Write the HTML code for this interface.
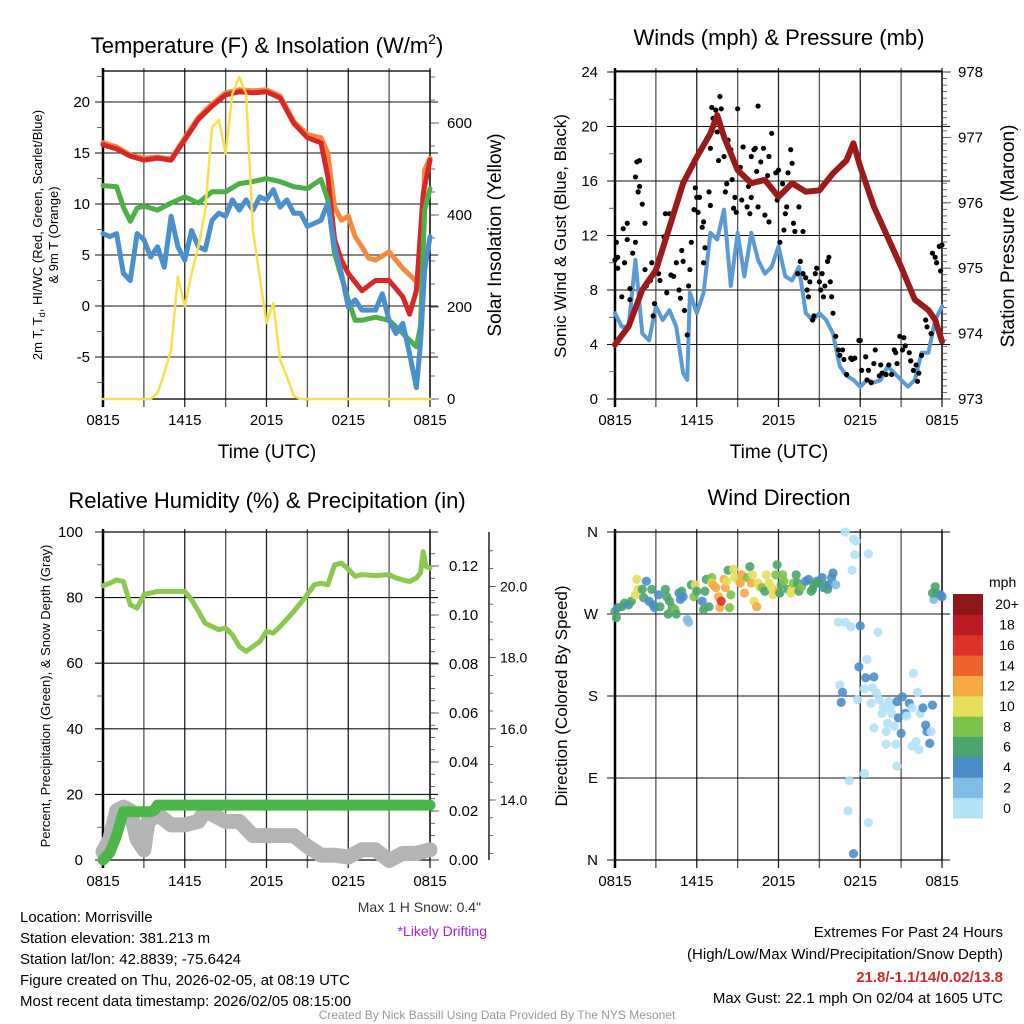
<!DOCTYPE html>
<html><head><meta charset="utf-8"><title>Morrisville Mesonet</title>
<style>
html,body{margin:0;padding:0;background:#fff;}
svg{display:block;font-family:"Liberation Sans",Arial,sans-serif;}
</style></head>
<body>
<svg id="root" width="1024" height="1024" viewBox="0 0 1024 1024" xmlns="http://www.w3.org/2000/svg">
<rect x="0" y="0" width="1024" height="1024" fill="#fff"/>
<g id="layer"></g>
<!-- static text -->
<text x="267" y="53" text-anchor="middle" font-size="22">Temperature (F) &amp; Insolation (W/m<tspan font-size="14" dy="-9">2</tspan><tspan dy="9">)</tspan></text>
<text x="779" y="45" text-anchor="middle" font-size="22">Winds (mph) &amp; Pressure (mb)</text>
<text x="267" y="508" text-anchor="middle" font-size="22">Relative Humidity (%) &amp; Precipitation (in)</text>
<text x="779" y="505" text-anchor="middle" font-size="22">Wind Direction</text>
<text x="267" y="458" text-anchor="middle" font-size="19">Time (UTC)</text>
<text x="779" y="458" text-anchor="middle" font-size="19">Time (UTC)</text>
<text transform="translate(42,235) rotate(-90)" text-anchor="middle" font-size="13">2m T, T<tspan font-size="9" dy="3">d</tspan><tspan dy="-3">, HI/WC (Red, Green, Scarlet/Blue)</tspan></text>
<text transform="translate(58,235) rotate(-90)" text-anchor="middle" font-size="13">&amp; 9m T (Orange)</text>
<text transform="translate(501,235) rotate(-90)" text-anchor="middle" font-size="19">Solar Insolation (Yellow)</text>
<text transform="translate(566,236) rotate(-90)" text-anchor="middle" font-size="17">Sonic Wind &amp; Gust (Blue, Black)</text>
<text transform="translate(1014,236) rotate(-90)" text-anchor="middle" font-size="19">Station Pressure (Maroon)</text>
<text transform="translate(50,696) rotate(-90)" text-anchor="middle" font-size="13">Percent, Precipitation (Green), &amp; Snow Depth (Gray)</text>
<text transform="translate(567,696) rotate(-90)" text-anchor="middle" font-size="17">Direction (Colored By Speed)</text>
<text x="989" y="587" text-anchor="start" font-size="14">mph</text>
<g font-size="15">
<text x="20" y="922">Location: Morrisville</text>
<text x="20" y="943">Station elevation: 381.213 m</text>
<text x="20" y="964">Station lat/lon: 42.8839; -75.6424</text>
<text x="20" y="985">Figure created on Thu, 2026-02-05, at 08:19 UTC</text>
<text x="20" y="1006">Most recent data timestamp: 2026/02/05 08:15:00</text>
</g>
<text x="481" y="912" text-anchor="end" font-size="14" fill="#333">Max 1 H Snow: 0.4"</text>
<text x="487" y="936" text-anchor="end" font-size="14" fill="#a020f0">*Likely Drifting</text>
<g font-size="15" text-anchor="end">
<text x="1003" y="937">Extremes For Past 24 Hours</text>
<text x="1003" y="959">(High/Low/Max Wind/Precipitation/Snow Depth)</text>
<text x="1003" y="982" fill="#d62728" font-weight="bold">21.8/-1.1/14/0.02/13.8</text>
<text x="1003" y="1003">Max Gust: 22.1 mph On 02/04 at 1605 UTC</text>
</g>
<text x="497" y="1019" text-anchor="middle" font-size="12" fill="#999">Created By Nick Bassill Using Data Provided By The NYS Mesonet</text>
</svg>
<script>
// ---------- DATA ----------
var xTickLabels = ["0815","1415","2015","0215","0815"];
// Panel 1 temperature
var tempHours = [0,1,2,3,4,5,6,7,8,9,10,11,12,13,14,15,16,16.5,17,17.5,18,19,20,21,22,22.5,23,23.5,24];
var redT = [15.8,15.4,14.7,14.3,14.5,14.3,16.3,18.3,19.6,20.7,21.0,20.9,21.0,20.4,17.9,16.5,16.0,12.7,6.5,4.5,3.2,1.5,2.5,2.5,0.9,-0.8,1.5,11,14.3];
var orangeHours = [0,1,2,3,4,5,6,7,8,9,10,11,12,13,14,15,16,16.5,17,17.5,18,18.5,19,19.5,20,21,22,23,23.3,23.6,24];
var orangeT = [16.0,15.6,14.8,14.5,14.6,14.4,16.5,18.5,19.8,20.9,21.2,21.1,21.2,20.6,18.1,16.8,16.5,15.0,9.7,8.4,8.8,6.8,5.8,4.7,4.5,5.3,3.7,2.4,1.9,13.3,14.5];
var greenHours = [0,1,1.5,2,2.5,3,4,5,6,7,8,9,10,11,12,13,14,15,16,16.5,17,17.5,18,18.5,19,20,21,22,23,23.3,23.6,24];
var greenT = [11.8,11.7,9.7,8.3,9.6,9.8,9.4,10.1,10.7,10.1,11.2,11.2,12.0,12.2,12.5,12.2,11.7,11.5,12.4,10.4,5.1,2.9,0.6,-1.4,-1.4,-1.1,-1.4,-2.7,-4.0,-2,9.4,11.5];
var blueHours = [0,0.5,1,1.5,2,2.5,3,3.5,4,4.5,5,5.5,6,6.5,7,7.5,8,8.5,9,9.5,10,10.5,11,11.5,12,12.5,13,13.5,14,14.5,15,15.5,16,16.5,17,17.5,18,18.5,19,20,20.5,21,21.5,22,22.5,23,23.3,23.6,24];
var blueT = [7.1,6.8,7.1,3.2,2.5,7.1,6.5,4.8,5.8,3.8,8.8,5.8,4.5,7.4,5.8,5.5,8.4,9.1,8.8,10.4,9.4,10.4,9.4,10.7,10.4,11.4,9.7,10.4,9.1,9.1,7.8,8.1,8.4,10.1,5.8,3.2,-0.1,0.6,-0.4,-0.4,1.2,-1.4,-2.7,-1.7,-4.7,-8.0,-3.7,3.5,6.8];
var solarHours = [0,3.5,4,4.5,5,5.5,6,6.5,7,7.5,8,8.5,9,9.5,10,10.5,11,11.5,12,12.5,13,13.5,14,14.5,24];
var solarW = [0,0,13,56,107,266,201,273,331,410,591,606,534,664,700,664,367,266,165,208,85,49,6,0,0];
var tempTicks = [-5,0,5,10,15,20];
var solarTicks = [0,200,400,600];
// Panel 2 winds
var pressHours = [0,1,2,3,4,5,6,7,7.5,8,9,10,11,12,13,14,15,16,17,17.5,18,19,20,21,22,23,23.5,24];
var pressMb = [973.83,974.11,974.67,974.97,975.63,976.30,976.70,977.06,977.34,977.01,976.50,976.30,976.35,976.09,976.30,976.17,976.19,976.45,976.65,976.91,976.55,975.94,975.48,975.02,974.52,974.36,974.21,973.88];
var windHours = [0,0.5,1,1.5,2,2.5,3,3.5,4,4.5,5,5.3,5.5,6,6.5,7,7.5,8,8.5,9,9.5,10,10.5,11,11.5,12,12.5,13,13.5,14,14.5,15,15.5,16,16.5,17,17.5,18,18.5,19,19.5,20,20.5,21,21.5,22,22.5,23,23.5,24];
var windMph = [6.3,5.3,5.3,10.2,4.8,4.3,6.8,5.8,6.5,5.3,1.9,1.4,7.8,6.3,7.8,12.2,11.7,13.9,8.3,12.2,9.0,12.2,10.2,9.2,9.7,11.2,9.0,8.7,9.7,6.3,5.8,6.3,5.8,4.8,2.4,1.7,1.4,0.9,1.4,1.2,1.4,2.4,1.9,1.4,0.9,1.4,3.4,3.4,5.8,6.8];
var gustHours = [0,0.1,0.2,0.2,0.5,0.6,0.7,0.9,0.9,1.1,1.1,1.3,1.5,1.5,1.6,1.7,1.8,1.8,2,2.2,2.2,2.3,2.6,2.7,2.8,2.9,3.2,3.3,3.6,3.7,3.8,4,4.1,4.3,4.5,4.7,4.8,4.9,5,5.1,5.3,5.4,5.5,5.6,5.8,5.9,6,6.1,6.2,6.4,6.5,6.5,6.6,6.9,7,7,7.1,7.2,7.4,7.5,7.6,7.7,7.8,8,8.1,8.2,8.3,8.5,8.6,8.7,8.8,8.9,9,9.2,9.3,9.4,9.7,9.8,9.9,10,10,10.2,10.3,10.4,10.5,10.5,10.7,10.9,11,11.2,11.3,11.3,11.5,11.8,11.9,12,12.1,12.3,12.4,12.5,12.6,12.7,12.9,13,13.1,13.2,13.4,13.5,13.6,13.8,13.8,14,14.1,14.2,14.3,14.5,14.6,14.7,14.8,15,15.1,15.2,15.3,15.4,15.6,15.7,15.8,15.9,16,16.2,16.4,16.5,16.7,16.8,17,17.3,17.4,17.6,17.9,18,18.1,18.4,18.5,18.6,18.8,19,19.1,19.4,19.5,19.6,19.9,20.1,20.3,20.5,20.6,20.7,20.9,21.1,21.2,21.3,21.6,21.7,21.9,22.1,22.2,22.3,22.5,22.8,22.9,23.2,23.3,23.5,23.6,23.8,23.9,24];
var gustMph = [10.2,11.5,10.4,9.6,7.5,12.5,10,11.7,12.9,8.1,7.3,10.7,11.5,16.3,17.4,15.2,17.5,15.6,14.3,12.9,9.5,8.3,8.7,10,6.1,7,9.2,8.7,11.9,13.6,7.8,13.6,9.1,9,10,8,7.4,10.9,10.1,6.5,4.7,8.3,9.5,11.5,13.9,15.5,14.8,13.7,14.8,12.6,13,10,11.1,15.2,18.4,14.2,21.4,20.6,21.2,19.6,17.5,22.2,21.3,17.8,15.2,15.8,19,18.3,16.1,14,14.8,13.7,21.3,17,14.6,18.5,14.1,15.6,13.6,14.8,17.8,18.3,18.4,16.7,21.5,14.1,17.4,18.4,13.5,16.4,17.8,13,19.5,16.6,14.6,16.8,11.5,15.8,12.4,13.6,14.1,16.6,18.3,17.3,12.9,12.3,9.2,14.1,10.1,12.3,9.2,8.9,8,7.5,8.6,5.8,6.1,9.2,9.6,8.6,8,9.2,7.5,8.3,10.1,10.4,8.6,7.5,6.3,4.6,3.6,3.2,3.6,2.9,1.8,3,2.9,3,4.3,4.3,2.1,3.1,1.4,2.1,1.2,2.6,3.6,1.7,2.5,1.9,1.8,2.5,1.8,3.6,3.4,2.6,4.6,3.6,4.5,3.9,3.4,2.8,2.1,2.5,1.3,1.9,3.2,5.8,5.3,4.8,10.7,10.4,10,11.2,9.4,11.3];
var windTicks = [0,4,8,12,16,20,24];
var pressTicks = [973,974,975,976,977,978];
// Panel 3 humidity / precip / snow
var rhHours = [0,0.5,1,1.5,2,2.5,3,4,5,6,6.5,7,7.5,8,8.5,9,9.5,10,10.5,11,11.5,12,12.5,13,14,15,15.5,16,16.5,17,17.5,18,18.5,19,20,21,21.5,22,22.5,23,23.3,23.5,23.7,24];
var rhPct = [83.6,84.4,85.4,84.9,77.8,76.8,80.9,81.9,81.9,81.9,79.3,75.8,72.2,71.2,70.2,70.7,68.7,65.1,63.6,65.1,66.6,69.7,69.2,71.2,75.8,80.9,83.9,84.4,83.9,90.0,90.5,88.7,86.5,87,86.7,87,86,85.4,84.9,86,87.5,94,89.5,89];
var precipHours = [0,0.5,1,1.5,2,2.5,3,3.5,3.8,4,6,8,10,12,14,16,18,20,22,24];
var precipIn = [0,0.003,0.010,0.0197,0.0197,0.0197,0.0197,0.0197,0.0205,0.0224,0.0224,0.0224,0.0224,0.0224,0.0224,0.0224,0.0224,0.0224,0.0224,0.0224];
var snowHours = [0,0.5,1,1.5,2,2.5,3,3.3,3.7,4,5,6,7,7.5,8,9,10,11,12,13,14,15,16,17,18,19,20,21,22,23,24];
var snowIn = [12.55,12.9,13.7,13.8,13.7,12.9,12.6,13.4,13.5,13.6,13.3,13.3,13.4,13.7,13.6,13.4,13.4,13.0,13.0,13.0,13.0,12.7,12.45,12.45,12.4,12.6,12.6,12.3,12.5,12.5,12.6];
var rhTicks = [0,20,40,60,80,100];
var precipTicks = ["0.00","0.02","0.04","0.06","0.08","0.10","0.12"];
var snowTicks = ["14.0","16.0","18.0","20.0"];
// Panel 4 wind direction
var dirHours = [0,0.1,0.2,0.5,0.7,1,1.2,1.6,1.7,1.5,2,2.1,2.3,2.5,2.7,2.8,2.9,3.2,3.3,3.7,3.8,3.9,4,4.2,4.4,4.5,4.7,4.8,4.9,5,5.3,5.4,5.6,5.8,5.9,6,6.4,6.5,6.6,6.7,6.9,7.1,7.1,7.2,7.4,7.6,7.7,7.8,8,8.1,8.2,8.3,8.4,8.5,8.7,8.8,9.1,9.2,9.3,9.5,9.7,9.9,10,10.1,10.2,10.4,10.5,10.6,10.8,11,11.1,11.3,11.5,11.6,11.8,11.9,12,12.1,12.2,12.3,12.4,12.7,12.9,13,13.1,13.3,13.4,13.5,13.7,14,14.2,14.4,14.5,14.6,14.8,14.9,15.2,15.3,15.4,15.6,15.7,15.9,16,16.2,16.4,16.9,16.9,17.3,17.4,17.5,17.7,17.6,18,18.6,19.3,17.9,18.5,16.5,16.7,16.6,17.8,18.3,18.4,19,18.9,19.2,18.8,19.4,19.6,19.7,19.9,20.1,20.3,20.3,20,19.9,20.5,20.7,21.1,21.3,20.8,21,21.4,21.6,21.8,21.9,22.2,22.1,21.8,22.3,22.4,22.6,22.8,22.9,23.2,23.1,23.3,19.9,20.6,20.7,18.3,17.2,17.1,18.6,17.5,19,23.4,23.5,23.6,23.9,24,23.3];
var dirDeg = [273,266,277,278,282,280,284,308,297,291,297,288,306,284,297,280,277,291,278,297,289,270,284,277,275,270,293,286,295,289,264,261,302,289,302,295,284,275,295,308,278,310,304,302,299,289,277,284,308,299,306,318,277,291,319,310,306,304,313,293,310,322,304,313,284,278,304,300,299,295,313,304,299,291,313,324,295,293,302,313,306,297,293,297,304,313,304,295,300,306,308,295,297,302,306,304,310,299,302,297,302,310,315,302,261,261,360,256,318,352,350,335,257,336,250,212,220,192,184,173,176,188,200,201,189,183,172,176,161,168,167,174,170,161,150,141,147,174,179,161,156,139,158,172,167,205,184,130,125,121,161,167,148,141,141,128,170,127,127,103,95,87,54,41,7,145,286,300,293,291,289,293];
var dirSpeed = [6,6,4,6,6,4,6,10,10,10,6,6,4,4,6,4,4,4,6,6,6,6,6,6,8,6,4,4,6,4,2,2,6,8,10,6,4,6,6,6,6,8,10,12,12,12,12,16,12,12,10,6,8,8,10,10,10,12,12,12,8,6,12,10,10,12,10,10,8,6,10,10,10,10,8,6,12,6,6,8,8,6,10,10,8,6,6,6,8,4,4,6,6,6,6,6,4,4,6,6,4,4,4,2,0,0,0,0,0,0,0,0,4,0,0,4,0,0,4,4,0,0,4,4,0,0,0,0,0,0,0,0,0,0,0,0,0,4,4,4,4,4,0,4,0,0,0,0,0,0,0,4,4,4,0,4,4,0,0,0,0,0,0,0,4,0,2,6,6,4,4,6];
var dirTickLabels = ["N","E","S","W","N"];
var cbarLabels = ["0","2","4","6","8","10","12","14","16","18","20+"];
var cbarColors = ["#b3e2f7","#7fbde6","#4a8ec8","#4aa56e","#7cc24a","#e6df5a","#f6a845","#ee622d","#dd3129","#bb1c24","#8e1518"];

// ---------- HELPERS ----------
var NS = "http://www.w3.org/2000/svg";
var layer = document.getElementById("layer");
function mk(tag, attrs, parent) {
  var el = document.createElementNS(NS, tag);
  for (var k in attrs) el.setAttribute(k, attrs[k]);
  (parent || layer).appendChild(el);
  return el;
}
function pathD(xs, ys, fx, fy) {
  var d = "";
  for (var i = 0; i < xs.length; i++) d += (i ? "L" : "M") + fx(xs[i]).toFixed(1) + "," + fy(ys[i]).toFixed(1);
  return d;
}
// axis functions
function xL(h) { return 103 + h * 327 / 24; }
function xR(h) { return 615 + h * 327 / 24; }
function yT(v) { return 306 - v * 10.2; }
function yS(w) { return 399 - w * 276 / 600; }
function yW(m) { return 399 - m * 327 / 24; }
function yP(p) { return 399 - (p - 973) * 327 / 5; }
function yRH(r) { return 860 - r * 3.28; }
function yPr(p) { return 860 - p * 2450; }
function ySn(s) { return 800 - (s - 14) * 35.6; }
function yD(d) { return 860 - d * 328 / 360; }

function frame(x0, y0, x1, y1, name) {
  var g = mk("g", {});
  
  
  for (var i = 0; i <= 8; i++) {
    var x = x0 + i * (x1 - x0) / 8;
    var l = mk("line", {x1: x, y1: y0 - 3, x2: x, y2: y1 + 8, stroke: (i % 2 ? "#555" : "#222"), "stroke-width": 1.3}, g);
    
    
  }
  for (var j = 0; j < 5; j++) {
    var t = mk("text", {x: x0 + j * (x1 - x0) / 4, y: y1 + 26, "text-anchor": "middle", "font-size": 15}, g);
    t.textContent = xTickLabels[j];
    
    
  }
  var r = mk("rect", {x: x0, y: y0, width: x1 - x0, height: y1 - y0, fill: "none", stroke: "#000", "stroke-width": 1.3}, g);
  
  
  var lb = mk("line", {x1: x0, y1: y0 - 3, x2: x0, y2: y1 + 8, stroke: "#000", "stroke-width": 2.5}, g);
  
  
}
function hGrid(y, x0, x1, name) {
  var l = mk("line", {x1: x0 - 8, y1: y, x2: x1, y2: y, stroke: "#111", "stroke-width": 1.1});
  
  
}
function tickLabel(x, y, txt, anchor, name, size) {
  var t = mk("text", {x: x, y: y + 5, "text-anchor": anchor, "font-size": size || 15});
  t.textContent = txt;
  
  
}
function minor(x, y, len, name) {
  var l = mk("line", {x1: x, y1: y, x2: x + len, y2: y, stroke: "#444", "stroke-width": 0.8});
  
  
}
function line(xs, ys, fx, fy, color, w, name) {
  var p = mk("path", {d: pathD(xs, ys, fx, fy), fill: "none", stroke: color, "stroke-width": w, "stroke-linejoin": "round", "stroke-linecap": "round"});
  
  
  return p;
}

// ---------- PANEL 1 ----------
frame(103, 71, 430, 399, "temperature");
for (var v = -7.5; v <= 22.5; v += 2.5) minor(97, yT(v), 6, 'temp-minor-tick');
tempTicks.forEach(function (v) { hGrid(yT(v), 103, 438, 'temp-gridline'); tickLabel(90, yT(v), String(v), "end", 'temp-tick-label'); });
for (var s = 0; s <= 700; s += 50) minor(430, yS(s), 5, 'solar-minor-tick');
solarTicks.forEach(function (s) { minor(430, yS(s), 9, 'solar-major-tick'); tickLabel(447, yS(s), String(s), "start", 'solar-tick-label'); });
line(orangeHours, orangeT, xL, yT, "#f6893b", 5, 'orange-9m-temp-line');
line(tempHours, redT, xL, yT, "#d92626", 5, 'red-2m-temp-line');
line(greenHours, greenT, xL, yT, "#4cb046", 5, 'green-dewpoint-line');
line(blueHours, blueT, xL, yT, "#4a90cc", 5, 'blue-windchill-line');
line(solarHours, solarW, xL, yS, "#f8e04c", 2.5, 'yellow-insolation-line');

// ---------- PANEL 2 ----------
frame(615, 71, 942, 399, "winds");
for (var w = 0; w <= 24; w += 2) minor(609, yW(w), 6, 'wind-minor-tick');
windTicks.forEach(function (w) { hGrid(yW(w), 615, 950, 'wind-gridline'); tickLabel(598, yW(w), String(w), "end", 'wind-tick-label'); });
for (var p = 973; p <= 978; p += 0.1) minor(942, yP(p), 5, 'pressure-minor-tick');
pressTicks.forEach(function (p) { minor(942, yP(p), 9, 'pressure-major-tick'); tickLabel(958, yP(p), String(p), "start", 'pressure-tick-label'); });
line(windHours, windMph, xR, yW, "#5a9bd5", 4, 'blue-sonic-wind-line');
for (var i = 0; i < gustHours.length; i++) {
  var c = mk("circle", {cx: xR(gustHours[i]), cy: yW(gustMph[i]), r: 2.6, fill: "#000"});
  
  
}
line(pressHours, pressMb, xR, yP, "#9a1b1b", 6, 'maroon-pressure-line');

// ---------- PANEL 3 ----------
frame(103, 532, 430, 860, "humidity");
for (var r = 0; r <= 100; r += 10) minor(97, yRH(r), 6, 'rh-minor-tick');
rhTicks.forEach(function (r) { hGrid(yRH(r), 103, 438, 'rh-gridline'); tickLabel(83, yRH(r), String(r), "end", 'rh-tick-label'); });
for (var q = 0; q <= 0.13; q += 0.005) minor(430, yPr(q), 5, 'precip-minor-tick');
precipTicks.forEach(function (q) { minor(430, yPr(+q), 9, 'precip-major-tick'); tickLabel(449, yPr(+q), q, "start", 'precip-tick-label'); });
var snAx = mk("line", {x1: 489, y1: 532, x2: 489, y2: 860, stroke: "#000", "stroke-width": 1.3});


for (var sn = 12.5; sn <= 21; sn += 0.5) minor(489, ySn(sn), 4, 'snow-minor-tick');
snowTicks.forEach(function (sv) { minor(489, ySn(+sv), 7, 'snow-major-tick'); tickLabel(500, ySn(+sv), sv, "start", 'snow-tick-label', 14); });
line(rhHours, rhPct, xL, yRH, "#8dc94e", 5, 'rh-line');
line(snowHours, snowIn, xL, ySn, "#b4b4b4", 15, 'snow-depth-line');
var pd1 = mk("circle", {cx: xL(3.3), cy: yPr(0.019), r: 3, fill: "#a020f0"});


line(precipHours, precipIn, xL, yPr, "#4cb648", 11, 'precipitation-line');

// ---------- PANEL 4 ----------
frame(615, 532, 942, 860, "direction");
[0, 90, 180, 270, 360].forEach(function (d, i) {
  hGrid(yD(d), 615, 950, 'direction-gridline');
  tickLabel(598, yD(d), dirTickLabels[i], "end", 'direction-tick-label');
});
for (var k = 0; k < dirHours.length; k++) {
  var idx = Math.min(10, Math.max(0, Math.floor(dirSpeed[k] / 2)));
  var dc = mk("circle", {cx: xR(dirHours[k]), cy: yD(dirDeg[k]), r: 4.6, fill: cbarColors[idx], "fill-opacity": 0.9});
  
  
}
for (var b = 0; b < cbarColors.length; b++) {
  var bh = 224 / 11;
  var yy = 818 - (b + 1) * bh;
  var cr = mk("rect", {x: 953, y: yy, width: 30, height: bh + 0.5, fill: cbarColors[b]});
  
  
  tickLabel(1007, yy + bh / 2, cbarLabels[b], "middle", 'colorbar-label', 14);
}
</script>
</body></html>
